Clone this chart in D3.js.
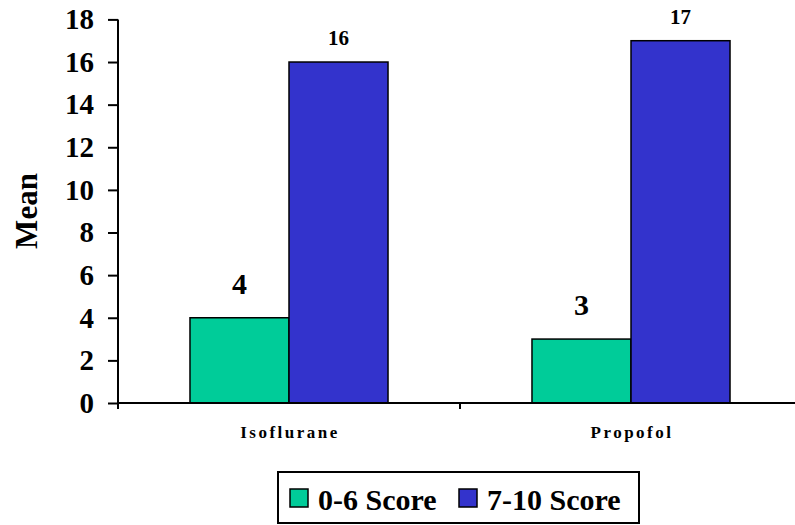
<!DOCTYPE html>
<html>
<head>
<meta charset="utf-8">
<script src="https://cdn.jsdelivr.net/npm/d3@7"></script>
<style>
  body { margin: 0; background: #fff; }
</style>
</head>
<body>
<svg width="795" height="525"></svg>
<script>
// data
var categories = ["Isoflurane", "Propofol"];
var seriesNames = ["0-6 Score", "7-10 Score"];
var lowScore = [4, 3];     // 0-6 Score
var highScore = [16, 17];  // 7-10 Score
var yTicks = [0, 2, 4, 6, 8, 10, 12, 14, 16, 18];

var colors = ["#00CC99", "#3333CC"];
var values = [lowScore, highScore];
var serif = "'Liberation Serif', 'Times New Roman', Times, serif";

var svg = d3.select("svg")
    .attr("font-family", serif)
    .attr("font-weight", "bold");

var x0 = d3.scaleBand()
    .domain(categories)
    .range([118, 802])
    .paddingInner(0)
    .paddingOuter(0);

var x1 = d3.scaleBand()
    .domain(seriesNames)
    .range([0, x0.bandwidth()])
    .paddingInner(0)
    .paddingOuter(0.727);

var y = d3.scaleLinear()
    .domain([0, 18])
    .range([403, 19.4]);

// bars
var groups = svg.selectAll("g.cat")
    .data(categories)
    .enter()
    .append("g")
    .attr("class", "cat")
    .attr("transform", function(d) { return "translate(" + x0(d) + ",0)"; });

function rows(d, i) {
    return seriesNames.map(function(s, j) { return { s: s, v: values[j][i], j: j }; });
}

groups.selectAll("rect")
    .data(rows)
    .enter()
    .append("rect")
    .attr("x", function(d) { return x1(d.s); })
    .attr("y", function(d) { return y(d.v); })
    .attr("width", x1.bandwidth())
    .attr("height", function(d) { return y(0) - y(d.v); })
    .attr("fill", function(d) { return colors[d.j]; })
    .attr("stroke", "#000")
    .attr("stroke-width", 1.5);

// value labels - the green ones are bigger in the original
groups.selectAll("text.val")
    .data(rows)
    .enter()
    .append("text")
    .attr("class", "val")
    .attr("x", function(d) { return x1(d.s) + x1.bandwidth() / 2; })
    .attr("y", function(d) { return y(d.v) - (d.j === 0 ? 24 : 17); })
    .attr("text-anchor", "middle")
    .style("font-family", serif)
    .style("font-weight", "bold")
    .style("font-size", function(d) { return d.j === 0 ? "30px" : "21px"; })
    .text(function(d) { return d.v; });

// y axis
var yAxis = svg.append("g")
    .attr("transform", "translate(118,0)")
    .call(d3.axisLeft(y).tickValues(yTicks).tickSize(10).tickPadding(14));

yAxis.attr("font-family", serif).attr("font-size", 29);
yAxis.select(".domain").attr("stroke", "#000").attr("stroke-width", 2).attr("d", "M0," + y(18) + "V" + y(0));
yAxis.selectAll(".tick line").attr("stroke", "#000").attr("stroke-width", 2);
yAxis.selectAll(".tick text")
    .style("font-size", "29px")
    .style("font-family", serif)
    .style("font-weight", "bold")
    .attr("fill", "#000");

// x axis line and ticks at band edges
svg.append("line")
    .attr("x1", x0.range()[0]).attr("x2", 795)
    .attr("y1", y(0)).attr("y2", y(0))
    .attr("stroke", "#000").attr("stroke-width", 2);

var edges = categories.map(function(c) { return x0(c); }).concat([x0.range()[1]]);
svg.selectAll("line.xtick")
    .data(edges)
    .enter()
    .append("line")
    .attr("class", "xtick")
    .attr("x1", function(d) { return d; }).attr("x2", function(d) { return d; })
    .attr("y1", y(0)).attr("y2", y(0) + 6)
    .attr("stroke", "#000").attr("stroke-width", 2);

svg.selectAll("text.cat")
    .data(categories)
    .enter()
    .append("text")
    .attr("class", "cat")
    .attr("x", function(d) { return x0(d) + x0.bandwidth() / 2 + 1; })
    .attr("y", 438)
    .attr("text-anchor", "middle")
    .style("font-family", serif)
    .style("font-weight", "bold")
    .style("font-size", "17px")
    .style("letter-spacing", "2.5px")
    .text(function(d) { return d; });

// y title
svg.append("text")
    .attr("transform", "translate(37,211) rotate(-90)")
    .attr("text-anchor", "middle")
    .style("font-family", serif)
    .style("font-weight", "bold")
    .style("font-size", "31px")
    .text("Mean");

// legend
var legend = svg.append("g");
legend.append("rect")
    .attr("x", 278).attr("y", 472)
    .attr("width", 361).attr("height", 51)
    .attr("fill", "#fff")
    .attr("stroke", "#000").attr("stroke-width", 2);

var legendX = [290, 459];
seriesNames.forEach(function(s, j) {
    legend.append("rect")
        .attr("x", legendX[j]).attr("y", 489)
        .attr("width", 18).attr("height", 18)
        .attr("fill", colors[j])
        .attr("stroke", "#000").attr("stroke-width", 1.5);
    legend.append("text")
        .attr("x", legendX[j] + 28).attr("y", 510)
        .style("font-family", serif)
        .style("font-weight", "bold")
        .style("font-size", "30px")
        .text(s);
});
</script>
</body>
</html>
